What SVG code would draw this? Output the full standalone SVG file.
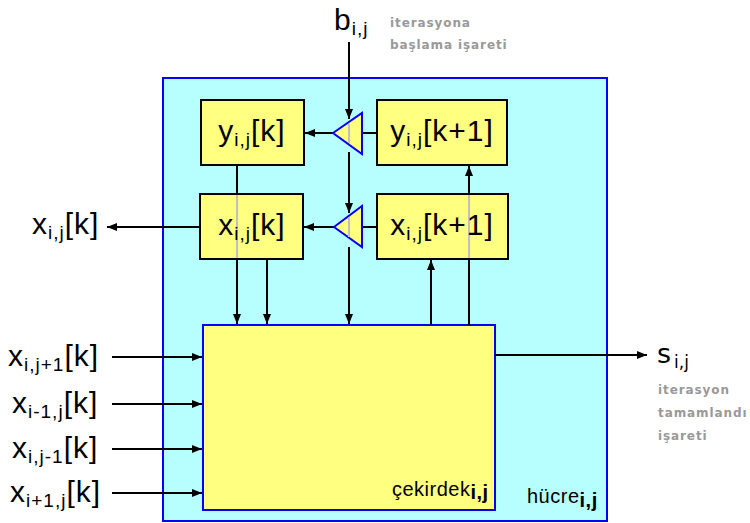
<svg xmlns="http://www.w3.org/2000/svg" width="750" height="523" viewBox="0 0 750 523">
<defs>
<marker id="ah" markerWidth="10" markerHeight="8" refX="10" refY="4" orient="auto" markerUnits="userSpaceOnUse">
<path d="M0,0 L10,4 L0,8 Z" fill="#000"/>
</marker>
<style>
.reg{fill:#ffff80;stroke:#000;stroke-width:2}
.w{stroke:#000;stroke-width:2;fill:none}
.wa{stroke:#000;stroke-width:2;fill:none;marker-end:url(#ah)}
.g{stroke:#c0c0c0;stroke-width:2}
.t{font-family:"Liberation Sans",Arial,sans-serif;font-size:30px;fill:#000;letter-spacing:1px}
.s{font-size:19px}
.lab{font-family:"Liberation Sans",Arial,sans-serif;font-size:20px;fill:#000;letter-spacing:0.5px}
.sb{font-weight:bold}
.note{font-family:"DejaVu Sans",Verdana,sans-serif;font-size:12px;font-weight:bold;fill:#999;letter-spacing:0.9px}
.tri{fill:#ffff80;stroke:#0000ff;stroke-width:2}
</style>
</defs>
<rect width="750" height="523" fill="#fff"/>
<g id="hucre">
<rect x="163" y="78" width="444" height="443" fill="#b7ffff" stroke="#0000ff" stroke-width="2"/>
<text x="527" y="503" class="lab">hücre<tspan dy="4" class="sb">i,j</tspan></text>
</g>
<g id="cekirdek">
<rect x="203" y="325" width="292" height="185" fill="#ffff80" stroke="#0000ff" stroke-width="2"/>
<text x="392" y="496" class="lab">çekirdek<tspan dy="3" class="sb">i,j</tspan></text>
</g>
<g id="connectors">
<line x1="349" y1="42" x2="349" y2="119" class="wa"/>
<line x1="349" y1="152" x2="349" y2="213" class="wa"/>
<line x1="349" y1="247" x2="349" y2="324" class="wa"/>
<line x1="377" y1="133" x2="362" y2="133" class="w"/>
<line x1="333" y1="133" x2="305" y2="133" class="wa"/>
<line x1="377" y1="227" x2="362" y2="227" class="w"/>
<line x1="334" y1="227" x2="304" y2="227" class="wa"/>
<line x1="200" y1="227" x2="107" y2="227" class="wa"/>
<line x1="237" y1="165" x2="237" y2="194" class="w"/>
<line x1="237" y1="259" x2="237" y2="324" class="wa"/>
<line x1="267" y1="259" x2="267" y2="324" class="wa"/>
<line x1="431" y1="325" x2="431" y2="260" class="wa"/>
<line x1="469" y1="325" x2="469" y2="259" class="w"/>
<line x1="469" y1="194" x2="469" y2="166" class="wa"/>
<line x1="112" y1="357" x2="202" y2="357" class="wa"/>
<line x1="112" y1="404" x2="202" y2="404" class="wa"/>
<line x1="112" y1="449" x2="202" y2="449" class="wa"/>
<line x1="112" y1="493" x2="202" y2="493" class="wa"/>
<line x1="495" y1="355" x2="647" y2="355" class="wa"/>
</g>
<g id="y_k">
<rect x="201" y="100" width="103" height="65" class="reg"/>
<text x="252" y="141" class="t" text-anchor="middle">y<tspan class="s" dy="5">i,j</tspan><tspan dy="-5">[k]</tspan></text>
</g>
<g id="y_k1">
<rect x="377" y="100" width="130" height="65" class="reg"/>
<text x="442" y="141" class="t" text-anchor="middle">y<tspan class="s" dy="5">i,j</tspan><tspan dy="-5">[k+1]</tspan></text>
</g>
<g id="x_k">
<rect x="200" y="194" width="103" height="65" class="reg"/>
<line x1="237" y1="195" x2="237" y2="258" class="g"/>
<text x="252" y="235" class="t" text-anchor="middle">x<tspan class="s" dy="5">i,j</tspan><tspan dy="-5">[k]</tspan></text>
</g>
<g id="x_k1">
<rect x="377" y="194" width="131" height="65" class="reg"/>
<line x1="469" y1="195" x2="469" y2="258" class="g"/>
<text x="442" y="235" class="t" text-anchor="middle">x<tspan class="s" dy="5">i,j</tspan><tspan dy="-5">[k+1]</tspan></text>
</g>
<g id="tri_y">
<polygon points="333,133 362,113 362,154" class="tri"/>
<line x1="349" y1="124" x2="349" y2="143" class="g"/>
</g>
<g id="tri_x">
<polygon points="334,227 362,206 362,247" class="tri"/>
<line x1="349" y1="217" x2="349" y2="237" class="g"/>
</g>
<g id="b_label">
<text x="334" y="30" class="t">b<tspan class="s" dy="5">i,j</tspan></text>
<text x="390" y="27" class="note">iterasyona</text>
<text x="390" y="49" class="note">başlama işareti</text>
</g>
<g id="x_out">
<text x="32" y="234" class="t">x<tspan class="s" dy="5">i,j</tspan><tspan dy="-5">[k]</tspan></text>
</g>
<g id="inputs">
<text x="8" y="366" class="t">x<tspan class="s" dy="5">i,j+1</tspan><tspan dy="-5">[k]</tspan></text>
<text x="12" y="413" class="t">x<tspan class="s" dy="5">i-1,j</tspan><tspan dy="-5">[k]</tspan></text>
<text x="12" y="458" class="t">x<tspan class="s" dy="5">i,j-1</tspan><tspan dy="-5">[k]</tspan></text>
<text x="10" y="502" class="t">x<tspan class="s" dy="5">i+1,j</tspan><tspan dy="-5">[k]</tspan></text>
</g>
<g id="s_label">
<text x="657" y="363" style="font-family:'DejaVu Sans',Verdana,sans-serif;font-size:27px;fill:#000">s<tspan dx="3" dy="5" style="font-size:17px">i,j</tspan></text>
<text x="658" y="394" class="note">iterasyon</text>
<text x="658" y="417" class="note">tamamlandı</text>
<text x="658" y="440" class="note">işareti</text>
</g>
</svg>
